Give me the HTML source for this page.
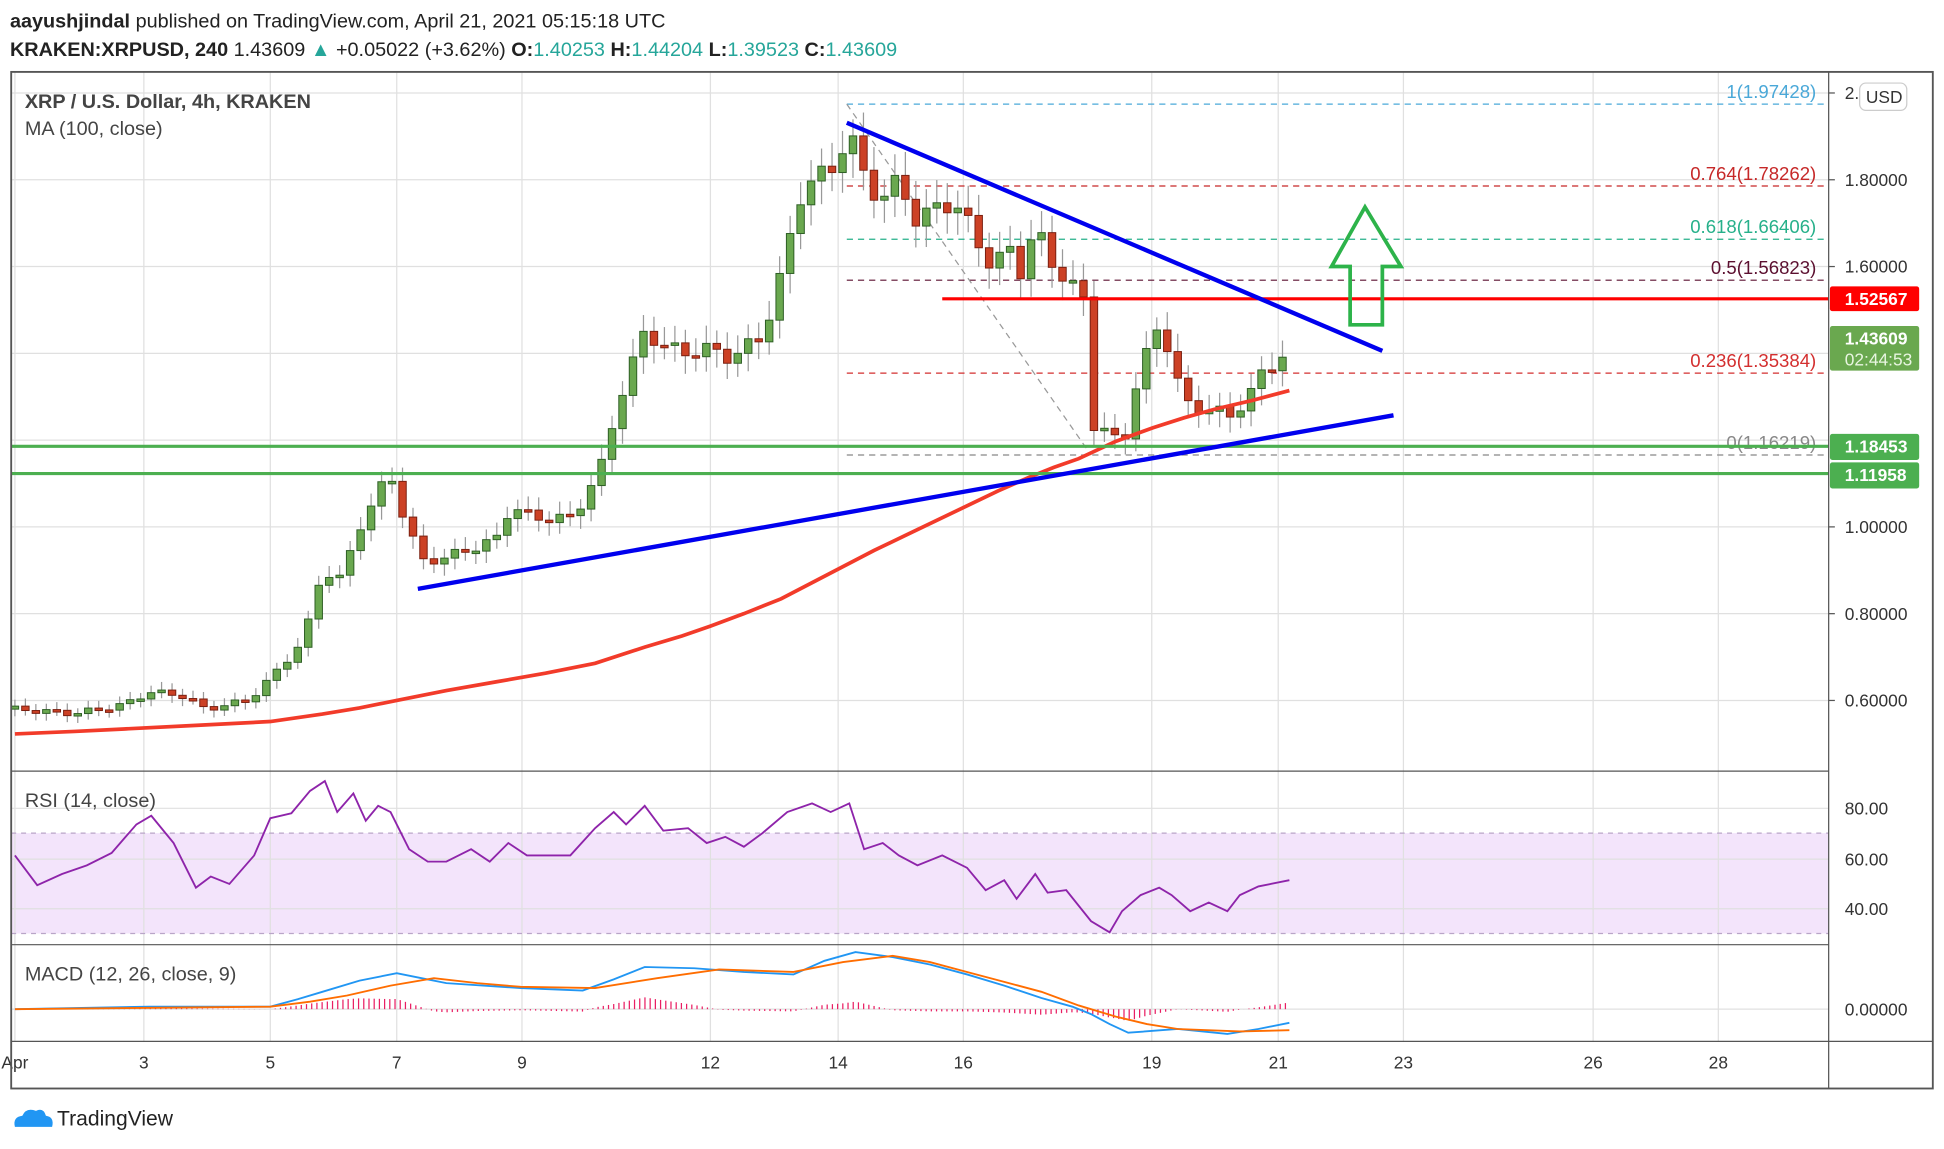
<!DOCTYPE html>
<html><head><meta charset="utf-8"><style>
html,body{margin:0;padding:0;background:#fff;width:1944px;height:1149px;overflow:hidden}
svg{display:block}
text{font-family:"Liberation Sans",sans-serif}
</style></head><body>
<svg id="s" width="1944" height="1149" viewBox="0 0 1568 926.8" xmlns="http://www.w3.org/2000/svg">
<text x="8" y="22" font-size="16" fill="#222"><tspan font-weight="bold">aayushjindal</tspan> published on TradingView.com, April 21, 2021 05:15:18 UTC</text>
<text x="8" y="45" font-size="16" fill="#222"><tspan font-weight="bold">KRAKEN:XRPUSD, 240</tspan> 1.43609 <tspan fill="#26a69a">▲</tspan> +0.05022 (+3.62%) <tspan font-weight="bold">O:</tspan><tspan fill="#26a69a">1.40253</tspan> <tspan font-weight="bold">H:</tspan><tspan fill="#26a69a">1.44204</tspan> <tspan font-weight="bold">L:</tspan><tspan fill="#26a69a">1.39523</tspan> <tspan font-weight="bold">C:</tspan><tspan fill="#26a69a">1.43609</tspan></text>
<rect x="9" y="672" width="1466" height="81" fill="#f3e4fb"/>
<g id="grid" stroke="#e0e0e0" stroke-width="1"></g>
<g id="plot"></g>
<rect x="9" y="58" width="1550" height="820" fill="none" stroke="#555" stroke-width="1.5"/>
<line x1="1475" y1="58" x2="1475" y2="878" stroke="#555"/>
<line x1="9" y1="622" x2="1475" y2="622" stroke="#555"/>
<line x1="9" y1="762" x2="1475" y2="762" stroke="#555"/>
<line x1="9" y1="840" x2="1559" y2="840" stroke="#555"/>
<text x="20" y="87" font-size="16" font-weight="bold" fill="#444">XRP / U.S. Dollar, 4h, KRAKEN</text>
<text x="20" y="109" font-size="16" fill="#444">MA (100, close)</text>
<text x="20" y="651" font-size="16" fill="#444">RSI (14, close)</text>
<text x="20" y="791" font-size="16" fill="#444">MACD (12, 26, close, 9)</text>
<g id="tv" transform="translate(10,893)">
<path d="M2 16 Q0 8 8 7 Q11 0 19 3 Q25 0 27 7 Q34 8 32 16 Z" fill="#2196f3"/>
<text x="36" y="15" font-size="17" fill="#222">TradingView</text></g>
</svg>
<script>
const S=document.getElementById('s'),P=document.getElementById('plot'),G=document.getElementById('grid');
const NS='http://www.w3.org/2000/svg';
function el(t,a,p){const e=document.createElementNS(NS,t);for(const k in a)e.setAttribute(k,a[k]);if(a.text){e.textContent=a.text}(p||P).appendChild(e);return e}
const yP=p=>145+(1.8-p)*350;
[12,116,218,320,421,573,676,777,929,1031,1132,1285,1386].forEach(x=>el('line',{x1:x,y1:58,x2:x,y2:840},G));
[2.0,1.8,1.6,1.4,1.2,1.0,0.8,0.6].forEach(p=>el('line',{x1:9,y1:yP(p),x2:1475,y2:yP(p)},G));
[652,693,733].forEach(y=>el('line',{x1:9,y1:y,x2:1475,y2:y},G));
el('line',{x1:9,y1:814,x2:1475,y2:814},G);
[672,753].forEach(y=>el('line',{x1:9,y1:y,x2:1475,y2:y,stroke:'#b9a5c8','stroke-dasharray':'4 4'},G));
[[12,'Apr'],[116,'3'],[218,'5'],[320,'7'],[421,'9'],[573,'12'],[676,'14'],[777,'16'],[929,'19'],[1031,'21'],[1132,'23'],[1285,'26'],[1386,'28']].forEach(([x,t])=>el('text',{x:x,y:862,'font-size':14,fill:'#333','text-anchor':'middle',text:t}));
[[2.0,'2.00000'],[1.8,'1.80000'],[1.6,'1.60000'],[1.0,'1.00000'],[0.8,'0.80000'],[0.6,'0.60000']].forEach(([p,t])=>{el('line',{x1:1475,y1:yP(p),x2:1480,y2:yP(p),stroke:'#555'});el('text',{x:1488,y:yP(p)+5,'font-size':14,fill:'#333',text:t})});
[[652,'80.00'],[693,'60.00'],[733,'40.00']].forEach(([y,t])=>el('text',{x:1488,y:y+5,'font-size':14,fill:'#333',text:t}));
el('text',{x:1488,y:819,'font-size':14,fill:'#333',text:'0.00000'});
el('rect',{x:1500,y:67,width:38,height:22,rx:5,fill:'#fff',stroke:'#ccc'});
el('text',{x:1505,y:83,'font-size':14,fill:'#333',text:'USD'});
[[84,'#4aa8d8','1(1.97428)'],[150,'#c62828','0.764(1.78262)'],[193,'#26b08a','0.618(1.66406)'],[226,'#5c1030','0.5(1.56823)'],[301,'#d32f2f','0.236(1.35384)'],[367,'#888','0(1.16219)']].forEach(([y,c,t])=>{el('line',{x1:683,y1:y,x2:1475,y2:y,stroke:c,'stroke-dasharray':'5 4'});el('text',{x:1465,y:y-5,'font-size':15,fill:c,'text-anchor':'end',text:t})});
el('line',{x1:683,y1:84,x2:880,y2:367,stroke:'#999','stroke-dasharray':'5 4'});
const A=[[12,.58],[60,.57],[100,.59],[120,.62],[150,.61],[165,.58],[200,.60],[218,.65],[245,.74],[260,.90],[275,.88],[290,1.0],[305,1.08],[315,1.12],[325,1.03],[340,.92],[360,.93],[380,.95],[400,.97],[412,1.05],[430,1.02],[460,1.02],[470,1.06],[485,1.14],[500,1.30],[520,1.45],[535,1.42],[550,1.40],[570,1.41],[590,1.39],[615,1.44],[630,1.58],[645,1.76],[655,1.80],[670,1.82],[685,1.91],[695,1.82],[710,1.75],[725,1.80],[740,1.70],[760,1.75],[775,1.73],[790,1.65],[800,1.60],[815,1.64],[825,1.58],[835,1.70],[845,1.62],[860,1.57],[875,1.52],[880,1.24],[895,1.22],[905,1.17],[915,1.32],[925,1.40],[935,1.46],[945,1.40],[955,1.28],[965,1.27],[980,1.28],[990,1.24],[1000,1.28],[1015,1.34],[1030,1.38],[1040,1.43]];
function interp(a,x){for(let i=1;i<a.length;i++){if(x<=a[i][0]){const[x0,y0]=a[i-1],[x1,y1]=a[i];return y0+(y1-y0)*(x-x0)/(x1-x0)}}return a[a.length-1][1]}
let prev=0.58;
for(let x=12;x<=1041;x+=8.45){let c=interp(A,x)*(1+0.012*Math.sin(x*1.7));const o=prev;prev=c;const up=c>=o,hi=Math.max(o,c)*(1.02+0.01*Math.abs(Math.sin(x))),lo=Math.min(o,c)*(0.98-0.01*Math.abs(Math.cos(x)));
el('line',{x1:x,y1:yP(hi),x2:x,y2:yP(lo),stroke:'#999'});
const y1=yP(Math.max(o,c)),h=Math.max(2,Math.abs(yP(o)-yP(c)));
el('rect',{x:x-3,y:y1,width:6,height:h,fill:up?'#6aa84f':'#cc4125',stroke:up?'#2d5e24':'#7a1f10','stroke-width':0.8})}
const pl=(pts,attrs)=>el('polyline',Object.assign({points:pts.map(p=>p.join(',')).join(' '),fill:'none'},attrs));
pl([[12,592],[60,590],[100,588],[160,585],[218,582],[260,576],[290,571],[320,565],[360,557],[400,550],[440,543],[480,535],[520,522],[550,513],[573,505],[600,495],[630,483],[655,470],[680,457],[705,444],[730,432],[755,420],[780,408],[805,396],[830,385],[850,377],[870,370],[900,356],[930,345],[955,337],[980,330],[1010,323],[1040,315]],{stroke:'#f23b2a','stroke-width':3});
el('line',{x1:9,y1:360,x2:1475,y2:360,stroke:'#4caf50','stroke-width':2.5});
el('line',{x1:9,y1:382,x2:1475,y2:382,stroke:'#4caf50','stroke-width':2.5});
el('line',{x1:760,y1:241,x2:1475,y2:241,stroke:'#ff0000','stroke-width':2.5});
el('line',{x1:683,y1:99,x2:1115,y2:283,stroke:'#0000ee','stroke-width':3.5});
el('line',{x1:337,y1:475,x2:1124,y2:335,stroke:'#0000ee','stroke-width':3.5});
el('polygon',{points:'1101,167 1130,215 1115,215 1115,262 1089,262 1089,215 1074,215',fill:'none',stroke:'#2db34a','stroke-width':3});
const box=(y,h,c,t,t2)=>{el('rect',{x:1476,y:y,width:72,height:h,fill:c,rx:2});el('text',{x:1488,y:y+15,'font-size':14,'font-weight':'bold',fill:'#fff',text:t});if(t2)el('text',{x:1488,y:y+32,'font-size':14,fill:'#e8f5e0',text:t2})};
box(231,20,'#ff0000','1.52567');box(263,36,'#6aa84f','1.43609','02:44:53');box(350,21,'#4caf50','1.18453');box(373,21,'#4caf50','1.11958');
pl([[12,690],[30,714],[50,705],[70,698],[90,688],[110,665],[122,658],[140,680],[158,716],[170,707],[185,713],[205,690],[218,660],[235,656],[250,638],[262,630],[272,655],[285,640],[295,662],[305,650],[315,655],[330,685],[345,695],[360,695],[380,685],[395,695],[410,680],[425,690],[460,690],[480,668],[495,655],[505,665],[520,650],[535,670],[555,668],[570,680],[585,675],[600,683],[615,672],[635,655],[655,648],[670,655],[685,648],[697,685],[712,680],[725,690],[740,698],[760,690],[780,700],[795,718],[810,710],[820,725],[835,705],[845,720],[860,718],[880,743],[895,752],[905,735],[920,722],[935,716],[945,722],[960,735],[975,728],[990,735],[1000,722],[1015,715],[1040,710]],{stroke:'#8e24aa','stroke-width':1.5});
const B=[[12,814],[120,812],[218,812],[240,806],[260,800],[290,791],[320,785],[340,789],[360,793],[420,797],[470,799],[495,790],[520,780],[560,781],[600,784],[640,786],[665,775],[690,768],[720,772],[750,778],[780,786],[810,795],[840,805],[865,812],[880,818],[895,826],[910,833],[950,830],[990,834],[1015,830],[1040,825]];
const O=[[12,814],[218,812],[250,808],[280,803],[315,795],[350,789],[385,793],[420,796],[480,797],[530,789],[580,782],[640,784],[680,776],[720,771],[750,776],[780,784],[810,792],[840,800],[870,811],[900,820],[925,826],[950,830],[1000,832],[1040,831]];
for(let x=12;x<=1041;x+=4.2){const d=(interp(O,x)-interp(B,x))*0.9;el('line',{x1:x,y1:814,x2:x,y2:814-d,stroke:'#e91e63','stroke-width':1})}
pl(B,{stroke:'#2196f3','stroke-width':1.5});pl(O,{stroke:'#ff6d00','stroke-width':1.5});
</script>
</body></html>
